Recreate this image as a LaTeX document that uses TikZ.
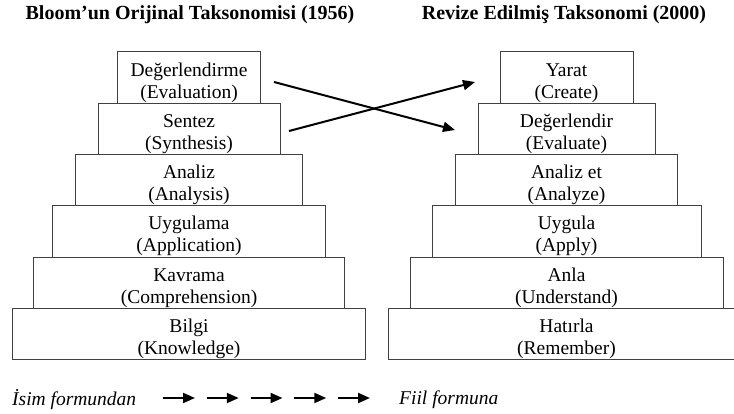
\documentclass[tikz,border=0pt]{standalone}
\usepackage{fontspec}
\setmainfont{Liberation Serif}
\usetikzlibrary{arrows.meta, positioning}
\tikzset{
  level/.style  = {draw=black!75, line width=1pt, rectangle,
                   minimum height=51.3pt, inner sep=0pt, outer sep=0pt,
                   align=center, font=\fontsize{19.5}{22}\selectfont,
                   execute at begin node={\rule{0pt}{45pt}}},
  title/.style  = {inner sep=0pt, font=\fontsize{20}{23}\selectfont\bfseries},
  form/.style   = {inner sep=0pt, anchor=west,
                   font=\fontsize{19.5}{22}\selectfont\itshape},
  swap/.style   = {-{Triangle[length=12pt, width=10pt]}, line width=2pt},
  flow/.style   = {-{Triangle[length=12pt, width=10pt]}, line width=2pt}
}

\begin{document}
\begin{tikzpicture}[x=1pt, y=-1pt]

  \clip (0,0) rectangle (734,414);

  %%──────────────────────────────────────────────────────────────────────────
  %%  TITLES
  %%──────────────────────────────────────────────────────────────────────────
  \node[title] (tOld) at (190,15) {Bloom’un Orijinal Taksonomisi (1956)};
  \node[title] (tNew) at (564,15) {Revize Edilmiş Taksonomi (2000)};

  %%──────────────────────────────────────────────────────────────────────────
  %%  ORIGINAL (1956) PYRAMID
  %%──────────────────────────────────────────────────────────────────────────
  \node[level, minimum width=143pt] (eval) at (189,77.65)
        {Değerlendirme\\(Evaluation)};
  \node[level, minimum width=182pt, below=0pt of eval]  (synth)
        {Sentez\\(Synthesis)};
  \node[level, minimum width=227pt, below=0pt of synth] (anal)
        {Analiz\\(Analysis)};
  \node[level, minimum width=273pt, below=0pt of anal]  (appl)
        {Uygulama\\(Application)};
  \node[level, minimum width=311pt, below=0pt of appl]  (comp)
        {Kavrama\\(Comprehension)};
  \node[level, minimum width=353pt, below=0pt of comp]  (know)
        {Bilgi\\(Knowledge)};

  %%──────────────────────────────────────────────────────────────────────────
  %%  REVISED (2000) PYRAMID
  %%──────────────────────────────────────────────────────────────────────────
  \node[level, minimum width=133pt] (create) at (566.5,77.65)
        {Yarat\\(Create)};
  \node[level, minimum width=177pt, below=0pt of create]  (evalt)
        {Değerlendir\\(Evaluate)};
  \node[level, minimum width=222pt, below=0pt of evalt]   (analz)
        {Analiz et\\(Analyze)};
  \node[level, minimum width=269pt, below=0pt of analz]   (apply)
        {Uygula\\(Apply)};
  \node[level, minimum width=313pt, below=0pt of apply]   (under)
        {Anla\\(Understand)};
  \node[level, minimum width=356pt, below=0pt of under]   (remem)
        {Hatırla\\(Remember)};

  %%──────────────────────────────────────────────────────────────────────────
  %%  CROSSING ARROWS (swap of the two top levels)
  %%──────────────────────────────────────────────────────────────────────────
  \coordinate (evalOut)  at (274,82);
  \coordinate (evalIn)   at (455,130);
  \coordinate (synthOut) at (289,131);
  \coordinate (synthIn)  at (475,82);

  \draw[swap] (evalOut)  -- (evalIn);
  \draw[swap] (synthOut) -- (synthIn);

  %%──────────────────────────────────────────────────────────────────────────
  %%  NOUN → VERB ROW
  %%──────────────────────────────────────────────────────────────────────────
  \node[form] (noun) at (12,400) {İsim formundan};
  \node[form] (verb) at (399,400) {Fiil formuna};

  \foreach \i in {0,...,4}{
    \coordinate (f\i) at (163+43.75*\i,398);
    \draw[flow] (f\i) -- ++(32,0);
  }

\end{tikzpicture}
\end{document}
